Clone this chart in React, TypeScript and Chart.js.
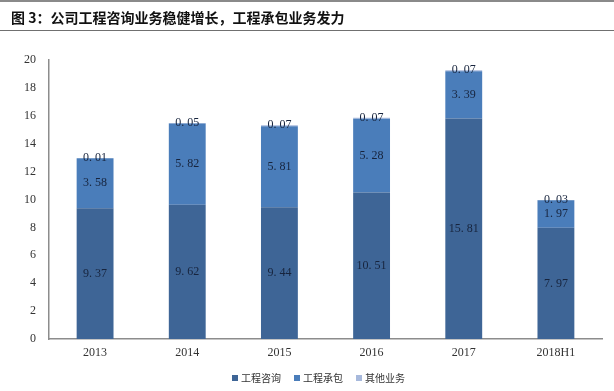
import React, { useEffect, useRef } from "react";
import { Chart, registerables } from "chart.js";

Chart.register(...registerables);

const categories = ["2013", "2014", "2015", "2016", "2017", "2018H1"];
const consulting = [9.37, 9.62, 9.44, 10.51, 15.81, 7.97];
const contracting = [3.58, 5.82, 5.81, 5.28, 3.39, 1.97];
const others = [0.01, 0.05, 0.07, 0.07, 0.07, 0.03];
const seriesNames = ["工程咨询", "工程承包", "其他业务"];
const seriesColors = ["#3E6596", "#4A7DBA", "#A7B9DC"];
const yTicks = [0, 2, 4, 6, 8, 10, 12, 14, 16, 18, 20];

const fmt = (v: number) => v.toFixed(2).replace(".", ". ");

const labelPlugin = {
  id: "barLabels",
  afterDatasetsDraw(chart: any) {
    const ctx = chart.ctx;
    ctx.save();
    ctx.font = "12px 'Liberation Serif', 'DejaVu Serif', serif";
    ctx.fillStyle = "#17243D";
    ctx.textAlign = "center";
    ctx.textBaseline = "middle";
    chart.data.datasets.forEach((ds: any, di: number) => {
      const meta = chart.getDatasetMeta(di);
      meta.data.forEach((bar: any, i: number) => {
        const v = ds.data[i];
        const y = di === 2 ? bar.y : (bar.y + bar.base) / 2;
        ctx.fillText(fmt(v), bar.x, y);
      });
    });
    ctx.restore();
  },
};

export default function App() {
  const ref = useRef<HTMLCanvasElement | null>(null);
  useEffect(() => {
    document.body.style.margin = "0";
    const chart = new Chart(ref.current as HTMLCanvasElement, {
      type: "bar",
      data: {
        labels: categories,
        datasets: [
          { label: seriesNames[0], data: consulting, backgroundColor: seriesColors[0] },
          { label: seriesNames[1], data: contracting, backgroundColor: seriesColors[1] },
          { label: seriesNames[2], data: others, backgroundColor: seriesColors[2] },
        ],
      },
      options: {
        animation: false,
        responsive: false,
        maintainAspectRatio: false,
        layout: { padding: { top: 60, right: 12, left: 0, bottom: 0 } },
        datasets: { bar: { barPercentage: 0.4, categoryPercentage: 1 } },
        plugins: { legend: { display: false }, tooltip: { enabled: false } },
        scales: {
          x: {
            stacked: true,
            grid: { display: false, drawTicks: false },
            border: { display: true, color: "#8C8C8C", width: 1.5 },
            ticks: {
              padding: 7,
              color: "#333",
              font: { family: "'Liberation Serif', serif", size: 12 },
            },
            afterFit: (s: any) => {
              s.height = 52;
            },
          },
          y: {
            stacked: true,
            min: 0,
            max: 20,
            afterBuildTicks: (s: any) => {
              s.ticks = yTicks.map((v) => ({ value: v }));
            },
            grid: { display: false, drawTicks: false },
            border: { display: true, color: "#8C8C8C", width: 1.5 },
            ticks: {
              padding: 13,
              color: "#333",
              font: { family: "'Liberation Serif', serif", size: 12 },
            },
            afterFit: (s: any) => {
              s.width = 49;
            },
          },
        },
      },
      plugins: [labelPlugin],
    } as any);
    return () => chart.destroy();
  }, []);

  return (
    <div style={{ position: "relative", width: 614, height: 391, background: "#fff", overflow: "hidden" }}>
      <canvas ref={ref} width={614} height={391} style={{ position: "absolute", left: 0, top: 0 }} />
      <div style={{ position: "absolute", left: 0, top: 0, width: 614, height: 2, background: "#8A8A8A" }} />
      <div
        style={{
          position: "absolute",
          left: 11,
          top: 7,
          fontFamily: "'Noto Sans CJK SC', sans-serif",
          fontWeight: 700,
          fontSize: 14,
          color: "#111",
          whiteSpace: "nowrap",
          lineHeight: "20px",
        }}
      >
        图 3：公司工程咨询业务稳健增长，工程承包业务发力
      </div>
      <div style={{ position: "absolute", left: 0, top: 30, width: 614, height: 1, background: "#707070" }} />
      <div
        style={{
          position: "absolute",
          left: 232,
          top: 370,
          display: "flex",
          gap: 13,
          fontFamily: "'Noto Sans CJK SC', sans-serif",
          fontSize: 10,
          color: "#333",
          lineHeight: "16px",
          whiteSpace: "nowrap",
        }}
      >
        {seriesNames.map((n, i) => (
          <div key={n} style={{ display: "flex", alignItems: "center", gap: 3 }}>
            <span style={{ display: "inline-block", width: 6, height: 6, background: seriesColors[i] }} />
            <span>{n}</span>
          </div>
        ))}
      </div>
    </div>
  );
}
